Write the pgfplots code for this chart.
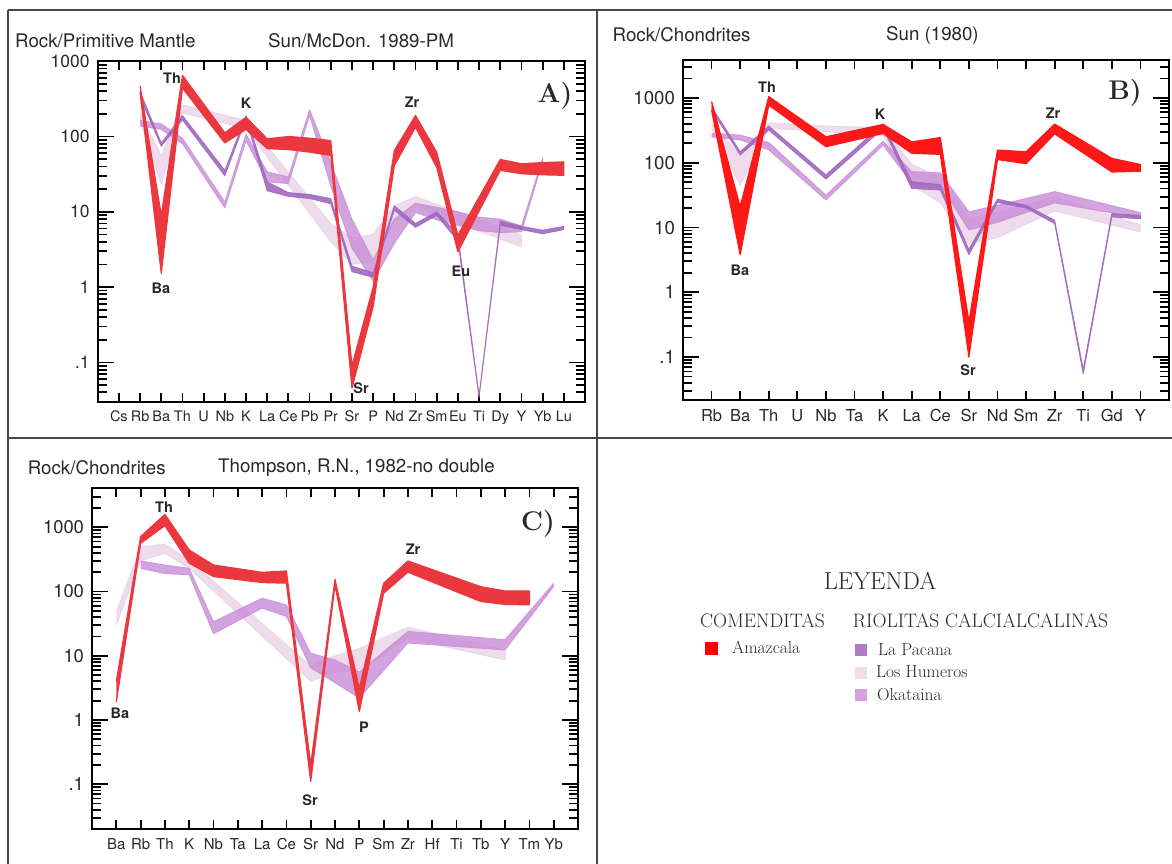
\documentclass[border=0pt]{standalone}
\usepackage{fontspec}
\usepackage{pgfplots}
\pgfplotsset{compat=1.18}
\newfontfamily\heros{TeX Gyre Heros}
\definecolor{redA}{RGB}{234,56,62}
\definecolor{redB}{RGB}{255,24,24}
\definecolor{redL}{RGB}{255,0,0}
\definecolor{pac}{RGB}{160,105,190}
\definecolor{oka}{RGB}{200,140,215}
\definecolor{hum}{RGB}{231,205,228}
\definecolor{txt}{RGB}{40,40,40}
\definecolor{frame}{RGB}{70,70,70}
\definecolor{pacL}{RGB}{176,124,198}
\definecolor{humL}{RGB}{240,220,236}
\definecolor{okaL}{RGB}{214,160,222}
\tikzset{
  sHum/.style={fill=hum, draw=hum, line width=0.8pt, line join=round, opacity=0.7},
  sOka/.style={fill=oka, draw=oka, line width=0.8pt, line join=round, opacity=0.8},
  sPac/.style={fill=pac, draw=pac, line width=0.8pt, line join=round, opacity=0.9},
  sRedA/.style={fill=redA, draw=redA, line width=1.2pt, line join=round},
  sRedB/.style={fill=redB, draw=redB, line width=1.2pt, line join=round},
}
\begin{document}
\begin{tikzpicture}
\path[use as bounding box] (0,0) rectangle (1172pt,-864pt);
\fill[white] (0,0) rectangle (1172pt,-864pt);

% ---------------- Panel A ----------------
\begin{axis}[at={(97.7pt,-61pt)}, anchor=north west, scale only axis, width=487.3pt, height=341pt,
  ymode=log,
  axis line style={line width=2pt, black},
  tick style={black, line width=1.8pt},
  major tick length=9pt, tick align=inside,
  xtick pos=both, ytick pos=both, xticklabel pos=lower, yticklabel pos=left,
  ytick={0.03,0.04,0.05,0.06,0.07,0.08,0.09,0.1,0.2,0.3,0.4,0.5,0.6,0.7,0.8,0.9,1,2,3,4,5,6,7,8,9,10,20,30,40,50,60,70,80,90,100,200,300,400,500,600,700,800,900,1000},
  yticklabels={{},{},{},{},{},{},{},.1,{},{},{},{},{},{},{},{},1,{},{},{},{},{},{},{},{},10,{},{},{},{},{},{},{},{},100,{},{},{},{},{},{},{},{},1000},
  extra y ticks={0.1,1,10,100,1000}, extra y tick labels={}, extra y tick style={major tick length=16pt},
  xmin=-1, xmax=22, ymin=0.0298, ymax=1005,
  xtick={0,...,21}, xticklabels={Cs,Rb,Ba,Th,U,Nb,K,La,Ce,Pb,Pr,Sr,P,Nd,Zr,Sm,Eu,Ti,Dy,Y,Yb,Lu},
  xticklabel style={anchor=base, text=txt, font=\heros\fontsize{14.5}{16}\selectfont, yshift=-19pt},
  yticklabel style={anchor=east, text=txt, xshift=-4.5pt, font=\heros\fontsize{17.5}{20}\selectfont}]
% Los Humeros
\addplot[sHum] coordinates {(1,205) (2,56) (3,263) (6,163) (10,7) (11,4.5) (12,5) (13,12) (14,16) (19,4.9)
 (19,3.4) (14,11.5) (13,7.5) (12,2.2) (11,2) (10,4) (6,127) (3,205) (2,23) (1,160)};
% Okataina
\addplot[sOka] coordinates {(1,163) (2,147) (3,95) (5,13.5) (6,108) (7,34) (8,29) (9,228) (10,45) (11,8) (12,2.3) (13,8) (14,13) (15,11.5) (16,10) (17,8.5) (18,8) (19,6.5) (20,52)
 (20,46) (19,5.4) (18,5.3) (17,5.6) (16,6.6) (15,7.8) (14,9.8) (13,3.8) (12,1.2) (11,3.3) (10,22) (9,190) (8,23.6) (7,25) (6,88) (5,11.2) (3,80) (2,124) (1,137)};
% La Pacana
\addplot[sPac] coordinates {(1,395) (2,82) (3,190) (5,35.5) (6,190) (7,25) (8,18) (9,17) (10,15) (11,1.9) (12,1.55) (13,12) (14,7) (15,10) (16,5) (17,0.037) (18,7.5) (19,6.4) (20,5.7) (21,6.4)
 (21,5.8) (20,5.1) (19,5.8) (18,6.6) (17,0.034) (16,4.1) (15,9) (14,6.2) (13,10.5) (12,1.35) (11,1.6) (10,12.8) (9,15) (8,16) (7,19) (6,170) (5,30) (3,166) (2,74) (1,331)};
% Amazcala
\addplot[sRedA] coordinates {(1,470) (2,9) (3,650) (5,112) (6,180) (7,93) (8,100) (9,95) (10,88) (11,0.09) (12,1.0) (13,65) (14,190) (15,62) (16,4.9) (18,49.5) (19,43.5) (20,45) (21,46)
 (21,30.5) (20,31) (19,32) (18,35.5) (16,2.94) (15,39) (14,133) (13,41) (12,0.55) (11,0.0455) (10,56) (9,62) (8,67) (7,69) (6,124) (5,82) (3,440) (2,1.52) (1,386)};
\end{axis}

% ---------------- Panel B ----------------
\begin{axis}[at={(683pt,-60pt)}, anchor=north west, scale only axis, width=486pt, height=340pt,
  ymode=log,
  axis line style={line width=2pt, black},
  tick style={black, line width=1.8pt},
  major tick length=9pt, tick align=inside,
  xtick pos=both, ytick pos=both, xticklabel pos=lower, yticklabel pos=left,
  ytick={0.03,0.04,0.05,0.06,0.07,0.08,0.09,0.1,0.2,0.3,0.4,0.5,0.6,0.7,0.8,0.9,1,2,3,4,5,6,7,8,9,10,20,30,40,50,60,70,80,90,100,200,300,400,500,600,700,800,900,1000,2000,3000},
  yticklabels={{},{},{},{},{},{},{},.1,{},{},{},{},{},{},{},{},1,{},{},{},{},{},{},{},{},10,{},{},{},{},{},{},{},{},100,{},{},{},{},{},{},{},{},1000,{},{}},
  extra y ticks={0.1,1,10,100,1000}, extra y tick labels={}, extra y tick style={major tick length=16pt},
  xmin=-1, xmax=16, ymin=0.0217, ymax=3863,
  xtick={0,...,15}, xticklabels={Rb,Ba,Th,U,Nb,Ta,K,La,Ce,Sr,Nd,Sm,Zr,Ti,Gd,Y},
  xticklabel style={anchor=base, text=txt, font=\heros\fontsize{16.5}{18}\selectfont, yshift=-21pt},
  yticklabel style={anchor=east, text=txt, xshift=-4.5pt, font=\heros\fontsize{18.7}{21}\selectfont}]
\addplot[sHum] coordinates {(0,407) (1,132) (2,414) (4,370) (6,350) (7,95) (8,60) (9,14) (10,17) (12,30) (15,11)
 (15,8.5) (12,18) (10,7) (9,5.5) (8,24) (7,45) (6,265) (4,300) (2,340) (1,45) (0,342)};
\addplot[sOka] coordinates {(0,288) (1,267) (2,206) (4,31.6) (6,216) (7,73) (8,70) (9,17.5) (10,22) (12,36) (15,17)
 (15,14) (12,24) (10,12) (9,9.1) (8,46) (7,48) (6,187) (4,26.5) (2,158) (1,225) (0,250)};
\addplot[sPac] coordinates {(0,735) (1,148) (2,369) (4,65) (6,400) (7,51) (8,46) (9,4.6) (10,27.5) (11,22) (12,13) (13,0.065) (14,16.4) (15,15.4)
 (15,13.6) (14,14.6) (13,0.055) (12,11.5) (11,20) (10,24.4) (9,3.8) (8,38) (7,40) (6,340) (4,56) (2,320) (1,132) (0,653)};
\addplot[sRedB] coordinates {(0,880) (1,21) (2,1050) (4,252) (6,391) (7,210) (8,245) (9,0.35) (10,157) (11,148) (12,396) (14,117) (15,94)
 (15,74) (14,72) (12,280) (11,97) (10,112) (9,0.1) (8,135) (7,140) (6,283) (4,177) (2,780) (1,3.8) (0,650)};
\end{axis}

% ---------------- Panel C ----------------
\begin{axis}[at={(92pt,-488pt)}, anchor=north west, scale only axis, width=486pt, height=341pt,
  ymode=log,
  axis line style={line width=2pt, black},
  tick style={black, line width=1.8pt},
  major tick length=9pt, tick align=inside,
  xtick pos=both, ytick pos=both, xticklabel pos=lower, yticklabel pos=left,
  ytick={0.03,0.04,0.05,0.06,0.07,0.08,0.09,0.1,0.2,0.3,0.4,0.5,0.6,0.7,0.8,0.9,1,2,3,4,5,6,7,8,9,10,20,30,40,50,60,70,80,90,100,200,300,400,500,600,700,800,900,1000,2000,3000},
  yticklabels={{},{},{},{},{},{},{},.1,{},{},{},{},{},{},{},{},1,{},{},{},{},{},{},{},{},10,{},{},{},{},{},{},{},{},100,{},{},{},{},{},{},{},{},1000,{},{}},
  extra y ticks={0.1,1,10,100,1000}, extra y tick labels={}, extra y tick style={major tick length=16pt},
  xmin=-1, xmax=19, ymin=0.0201, ymax=4090,
  xtick={0,...,18}, xticklabels={Ba,Rb,Th,K,Nb,Ta,La,Ce,Sr,Nd,P,Sm,Zr,Hf,Ti,Tb,Y,Tm,Yb},
  xticklabel style={anchor=base, text=txt, font=\heros\fontsize{15}{17}\selectfont, yshift=-20.4pt},
  yticklabel style={anchor=east, text=txt, xshift=-4.5pt, font=\heros\fontsize{18.4}{21}\selectfont}]
\addplot[sHum] coordinates {(0,48) (1,500) (2,544) (3,310) (8,7) (9,10) (10,13) (12,28) (16,12.3)
 (16,8.6) (12,18.6) (10,6) (9,5.5) (8,4) (3,230) (2,395) (1,300) (0,30)};
\addplot[sOka] coordinates {(1,300) (2,259) (3,230) (4,34) (6,79) (7,62) (8,11) (9,8.6) (10,5.6) (12,24) (16,17.8) (18,135)
 (18,120) (16,12.3) (12,15.8) (10,2.2) (9,3.8) (8,6.5) (7,41) (6,55) (4,22) (3,182) (2,190) (1,229)};
\addplot[sRedA] coordinates {(0,4) (1,716) (2,1590) (3,444) (4,259) (6,199) (7,209) (8,0.2) (9,155) (10,3.1) (11,134) (12,299) (15,119) (16,102) (17,102)
 (17,62) (16,63) (15,70) (12,200) (11,94) (10,1.35) (9,126) (8,0.11) (7,135) (6,138) (4,171) (3,276) (2,1060) (1,563) (0,1.9)};
\end{axis}

\begin{scope}[x=1pt,y=-1pt]
% frame
\draw[frame, line width=2pt] (7.5,10) -- (1172,10);
\draw[frame, line width=2pt] (7.5,10) -- (7.5,864);
\draw[frame, line width=2pt] (597,10) -- (597,864);
\draw[frame, line width=2pt] (7.5,438) -- (1172,438);

% titles
\tikzset{ttl/.style={anchor=west, inner sep=0pt, text=txt, font=\heros\fontsize{18.7}{22}\selectfont}}
\node[ttl] at (15,41) {Rock/Primitive Mantle};
\node[ttl] at (268,41) {Sun/McDon. 1989-PM};
\node[ttl] at (612.5,35) {Rock/Chondrites};
\node[ttl] at (886,35) {Sun (1980)};
\node[ttl] at (27.6,468) {Rock/Chondrites};
\node[ttl] at (218,468) {Thompson, R.N., 1982-no double};

% panel letters
\tikzset{pl/.style={inner sep=0pt, text=txt, font=\bfseries\fontsize{27}{30}\selectfont}}
\node[pl] at (555,96) {A)};
\node[pl] at (1125,93) {B)};
\node[pl] at (538,524) {C)};

% element labels
\tikzset{el/.style={inner sep=0pt, text=txt, font=\heros\bfseries\fontsize{14.5}{17}\selectfont}}
\node[el] at (172,78) {Th};
\node[el] at (161,288) {Ba};
\node[el] at (246,103) {K};
\node[el] at (412,102) {Zr};
\node[el] at (361,388) {Sr};
\node[el] at (461,271) {Eu};
\node[el] at (767,87) {Th};
\node[el] at (740,270) {Ba};
\node[el] at (880,114) {K};
\node[el] at (1053,113) {Zr};
\node[el] at (968,370) {Sr};
\node[el] at (164,507) {Th};
\node[el] at (120,713) {Ba};
\node[el] at (413,549) {Zr};
\node[el] at (310,800) {Sr};
\node[el] at (364,727) {P};

% legend
\node[text=txt, inner sep=0pt, font=\fontsize{24.5}{28}\selectfont] at (880,581) {LEYENDA};
\tikzset{lh/.style={anchor=west, inner sep=0pt, text=txt, font=\fontsize{19.5}{22}\selectfont}}
\node[lh] at (700,621) {COMENDITAS};
\node[lh] at (852.7,621) {RIOLITAS CALCIALCALINAS};
\tikzset{li/.style={anchor=west, inner sep=0pt, text=txt, font=\fontsize{17.4}{20}\selectfont}}
\fill[redL] (704.5,641.5) rectangle (717.5,654.5);
\node[li] at (732,647) {Amazcala};
\fill[pacL] (855,644) rectangle (867,656);
\node[li] at (878,650) {La Pacana};
\fill[humL] (855,666.5) rectangle (867,678.5);
\node[li] at (876,672) {Los Humeros};
\fill[okaL] (855,688.5) rectangle (867,700.5);
\node[li] at (877,695) {Okataina};
\end{scope}
\end{tikzpicture}
\end{document}
